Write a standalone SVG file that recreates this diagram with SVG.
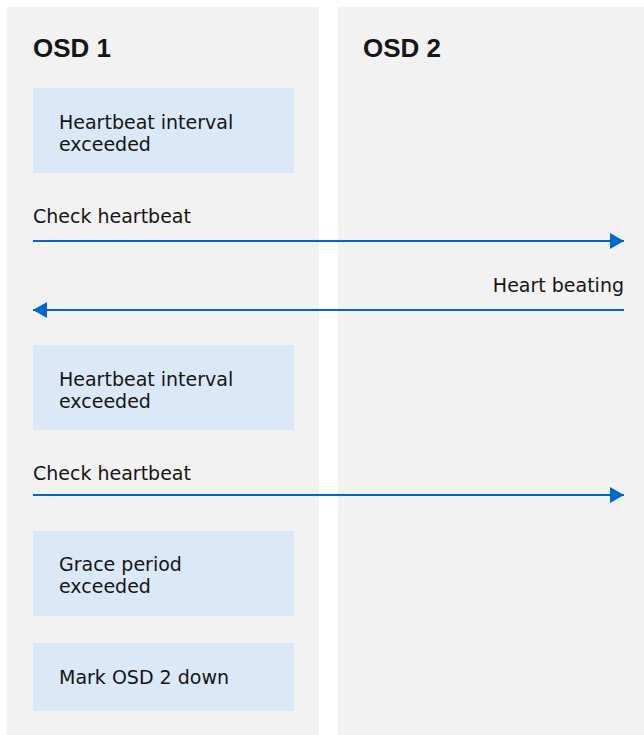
<svg xmlns="http://www.w3.org/2000/svg" width="644" height="735" viewBox="0 0 644 735">
<style>
.lane{fill:#f2f2f2}
.box{fill:#dae8f7}
.t{font-family:"DejaVu Sans",sans-serif;font-size:19px;fill:#151515}
.h{font-family:"Liberation Sans",Arial,sans-serif;font-weight:bold;font-size:26px;fill:#151515}
.c{stroke:#0066cc;stroke-width:2;fill:none}
</style>
<defs>
<marker id="ah" markerWidth="14" markerHeight="16" refX="14" refY="8" orient="auto" markerUnits="userSpaceOnUse">
<path d="M0,0 L14,8 L0,16 Z" fill="#0066cc"/>
</marker>
</defs>
<rect width="644" height="735" fill="#ffffff"/>
<g id="lane1"><rect class="lane" x="7" y="7" width="312" height="728"/><text class="h" x="33" y="57">OSD 1</text></g>
<g id="lane2"><rect class="lane" x="338" y="7" width="306" height="728"/><text class="h" x="363" y="57">OSD 2</text></g>
<g id="n1"><rect class="box" x="33" y="88" width="261" height="85"/><text class="t" x="59" y="129">Heartbeat interval</text><text class="t" x="59" y="151">exceeded</text></g>
<g id="n2"><rect class="box" x="33" y="345" width="261" height="85"/><text class="t" x="59" y="386">Heartbeat interval</text><text class="t" x="59" y="408">exceeded</text></g>
<g id="n3"><rect class="box" x="33" y="531" width="261" height="85"/><text class="t" x="59" y="571">Grace period</text><text class="t" x="59" y="593">exceeded</text></g>
<g id="n4"><rect class="box" x="33" y="643" width="261" height="68"/><text class="t" x="59" y="684">Mark OSD 2 down</text></g>
<g id="connectors">
<line class="c" x1="33" y1="241" x2="624" y2="241" marker-end="url(#ah)"/>
<text class="t" x="33" y="223">Check heartbeat</text>
<line class="c" x1="624" y1="310" x2="33" y2="310" marker-end="url(#ah)"/>
<text class="t" x="624" y="292" text-anchor="end">Heart beating</text>
<line class="c" x1="33" y1="495" x2="624" y2="495" marker-end="url(#ah)"/>
<text class="t" x="33" y="480">Check heartbeat</text>
</g>
</svg>
